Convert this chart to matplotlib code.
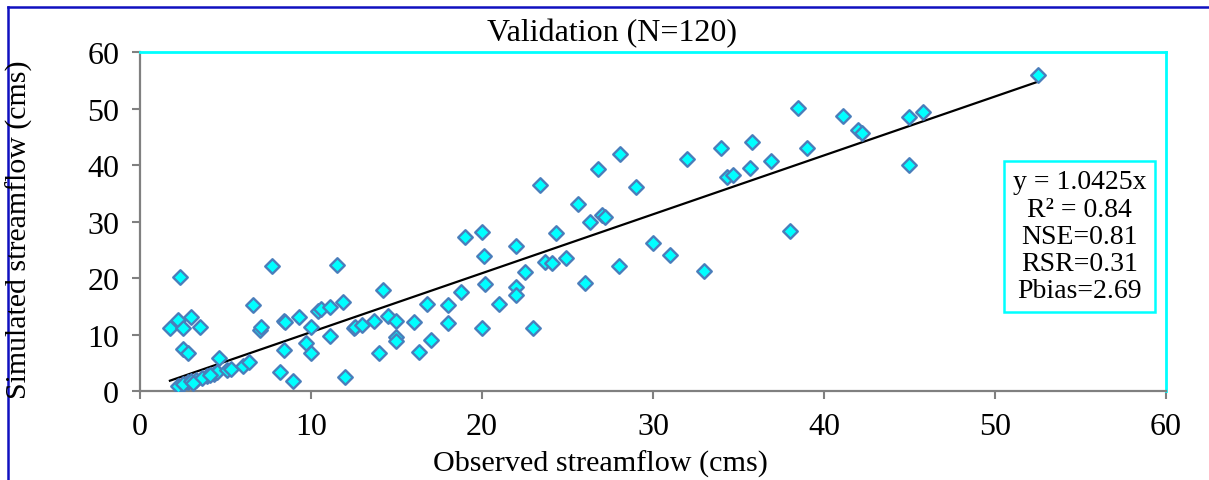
import matplotlib.pyplot as plt
import numpy as np
from matplotlib.lines import Line2D

plt.rcParams['font.family'] = ['Liberation Serif', 'DejaVu Serif']

observed = [1.75, 2.2, 2.34, 2.5, 3.0, 3.5, 2.5, 2.8,
            2.2, 2.8, 3.3, 3.9, 4.3, 4.5, 2.5, 3.0, 3.6, 4.1, 3.1,
            4.6, 5.1, 5.3, 6.0, 6.4, 6.6, 7.0, 7.1, 7.7,
            8.2, 8.4, 8.4, 8.5, 8.95, 9.3, 9.7, 10.0, 10.0, 10.4, 10.6, 11.1, 11.1, 11.5, 11.9, 12.0,
            12.5, 12.6, 13.0, 13.7, 14.0, 14.2, 14.5, 15.0, 15.0, 15.0, 16.0, 16.3, 16.8, 17.0,
            18.0, 18.0, 18.8, 19.0, 20.0, 20.0, 20.1, 20.2, 21.0, 22.0, 22.0, 22.0, 22.5, 23.0,
            23.4, 23.7, 24.1, 24.3, 24.9,
            25.6, 26.0, 26.3, 26.8, 27.0, 27.2, 28.0, 28.1, 29.0, 30.0, 31.0, 32.0, 33.0, 34.0,
            34.3, 34.7, 35.7, 35.8, 36.9, 38.0, 38.5, 39.0, 41.1, 42.0, 42.2, 45.0, 45.0, 45.8, 52.5]
simulated = [11.2, 12.6, 20.2, 11.1, 13.1, 11.3, 7.4, 6.7,
             0.9, 1.6, 2.0, 2.6, 3.0, 3.3, 1.2, 1.8, 2.3, 2.8, 1.5,
             5.8, 3.7, 3.9, 4.4, 5.1, 15.2, 10.8, 11.3, 22.1,
             3.4, 7.2, 12.4, 12.2, 1.8, 13.1, 8.5, 6.7, 11.3, 14.2, 14.5, 14.8, 9.7, 22.3, 15.7, 2.5,
             11.1, 11.3, 11.7, 12.4, 6.7, 17.9, 13.3, 12.4, 9.6, 8.8, 12.2, 6.9, 15.4, 9.1,
             15.2, 12.0, 17.5, 27.3, 28.1, 11.2, 23.9, 18.9, 15.4, 25.7, 18.4, 17.0, 21.0, 11.2,
             36.5, 22.8, 22.7, 28.0, 23.5,
             33.1, 19.1, 29.9, 39.3, 31.2, 30.8, 22.1, 42.0, 36.1, 26.2, 24.1, 41.1, 21.2, 43.0,
             37.9, 38.2, 39.5, 44.1, 40.7, 28.3, 50.1, 43.0, 48.7, 46.2, 45.7, 48.5, 40.0, 49.4, 55.9]

slope = 1.0425
stats = ["y = 1.0425x", "R² = 0.84", "NSE=0.81", "RSR=0.31", "Pbias=2.69"]
ticks = [0, 10, 20, 30, 40, 50, 60]

fig = plt.figure(figsize=(12.09, 4.81), dpi=100)
ax = fig.add_axes([0.1158, 0.185, 0.8486, 0.7048])

ax.scatter(observed, simulated, marker='D', s=55, facecolor='#00FFFF',
           edgecolor='#4A7EBB', linewidth=1.7, zorder=3)

xfit = np.array([min(observed), max(observed)])
ax.plot(xfit, slope * xfit, color='black', linewidth=1.6, zorder=2)

ax.set_xlim(0, 60)
ax.set_ylim(0, 60)
ax.set_xticks(ticks)
ax.set_yticks(ticks)
ax.tick_params(direction='out', length=6, width=1.5, color='#808080',
               labelsize=23, pad=9)
for side in ['left', 'bottom']:
    ax.spines[side].set_color('#808080')
    ax.spines[side].set_linewidth(1.6)
for side in ['top', 'right']:
    ax.spines[side].set_color('#00FFFF')
    ax.spines[side].set_linewidth(2)

ax.text(0.9157, 0.456, "\n".join(stats), transform=ax.transAxes,
        ha='center', va='center', fontsize=20, linespacing=1.12,
        bbox=dict(boxstyle='square,pad=0.3', facecolor='white',
                  edgecolor='#00FFFF', linewidth=1.8))

fig.text(0.506, 0.931, "Validation (N=120)", ha='center', va='center', fontsize=23)
fig.text(0.497, 0.035, "Observed streamflow (cms)", ha='center', va='center', fontsize=21.7)
fig.text(0.016, 0.522, "Simulated streamflow (cms)", ha='center', va='center',
         rotation=90, fontsize=21.5)

# page frame lines along the top and left edges
fig.add_artist(Line2D([0.0066, 1.0], [0.983, 0.983], transform=fig.transFigure,
                      color='#1010C0', linewidth=1.8))
fig.add_artist(Line2D([0.0066, 0.0066], [0.0, 0.983], transform=fig.transFigure,
                      color='#1010C0', linewidth=1.8))

fig.savefig('out.png', dpi=100)
